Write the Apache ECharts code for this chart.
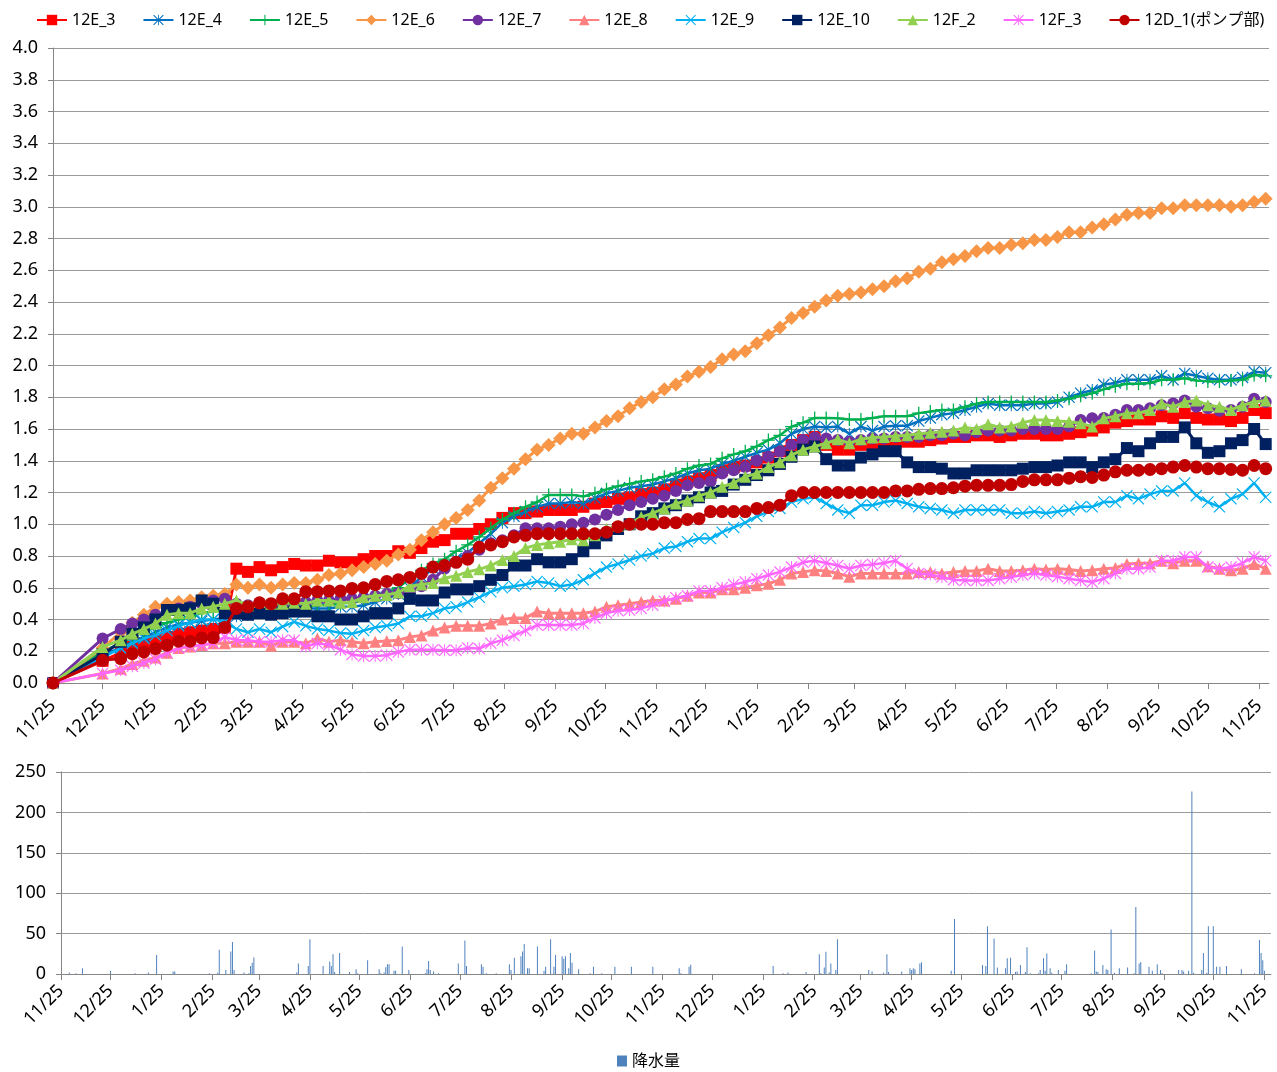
<!DOCTYPE html>
<html lang="ja" style="height: 100%;margin: 0;">
<head>
    <meta charset="UTF-8">
    <title>chart</title>
</head>
<body style="height: 100%;margin: 0;background: #fff;">
<div id="chart" style="width: 1277px;height: 1072px;margin: 0;"></div>
<script src="https://cdn.jsdelivr.net/npm/echarts@6/dist/echarts.min.js"></script>
<script>
    // sample days counted from 2012-11-25: start, 12/25, then weekly from 1/5
    var sampleDays = [0, 30];
    for (var k = 0; k < 100; k++) sampleDays.push(41 + 7 * k);

    var names = ['12E_3', '12E_4', '12E_5', '12E_6', '12E_7', '12E_8', '12E_9', '12E_10', '12F_2', '12F_3', '12D_1(ポンプ部)'];
    var colors = ['#FF0000', '#0070C0', '#00B050', '#F79646', '#7030A0', '#FF8080', '#00B0F0', '#002060', '#92D050', '#FF66FF', '#C00000'];

    var s12E_3 = [0, 0.14,
        0.19, 0.23, 0.25, 0.27, 0.29, 0.31, 0.32, 0.33, 0.34, 0.35,
        0.72, 0.70, 0.73, 0.71, 0.73, 0.75, 0.74, 0.74, 0.77, 0.76,
        0.76, 0.78, 0.80, 0.80, 0.83, 0.82, 0.85, 0.89, 0.90, 0.94,
        0.94, 0.97, 1.00, 1.04, 1.07, 1.07, 1.08, 1.09, 1.09, 1.09,
        1.11, 1.13, 1.14, 1.16, 1.17, 1.19, 1.20, 1.22, 1.25, 1.27,
        1.29, 1.31, 1.34, 1.36, 1.37, 1.39, 1.42, 1.46, 1.50, 1.53,
        1.55, 1.50, 1.47, 1.47, 1.50, 1.51, 1.51, 1.51, 1.52, 1.52,
        1.53, 1.54, 1.55, 1.55, 1.56, 1.56, 1.55, 1.56, 1.57, 1.57,
        1.56, 1.56, 1.57, 1.58, 1.59, 1.61, 1.64, 1.65, 1.66, 1.66,
        1.68, 1.67, 1.70, 1.67, 1.66, 1.66, 1.65, 1.67, 1.72, 1.70];
    var s12E_4 = [0, 0.18,
        0.22, 0.26, 0.29, 0.32, 0.35, 0.37, 0.38, 0.39, 0.40, 0.41,
        0.42, 0.43, 0.44, 0.45, 0.46, 0.46, 0.47, 0.47, 0.47, 0.48,
        0.48, 0.49, 0.51, 0.53, 0.56, 0.60, 0.67, 0.72, 0.74, 0.785,
        0.82, 0.88, 0.94, 1.01, 1.05, 1.08, 1.11, 1.13, 1.13, 1.14,
        1.13, 1.165, 1.195, 1.21, 1.23, 1.24, 1.25, 1.27, 1.29, 1.32,
        1.34, 1.35, 1.38, 1.40, 1.425, 1.45, 1.47, 1.51, 1.57, 1.60,
        1.615, 1.61, 1.615, 1.57, 1.615, 1.59, 1.615, 1.62, 1.62, 1.65,
        1.67, 1.69, 1.70, 1.72, 1.74, 1.76, 1.75, 1.75, 1.75, 1.76,
        1.76, 1.77, 1.80, 1.825, 1.845, 1.88, 1.89, 1.91, 1.91, 1.91,
        1.935, 1.91, 1.95, 1.935, 1.92, 1.91, 1.91, 1.925, 1.96, 1.955];
    var s12E_5 = [0, 0.20,
        0.25, 0.29, 0.32, 0.35, 0.38, 0.40, 0.42, 0.44, 0.45, 0.46,
        0.46, 0.46, 0.47, 0.47, 0.48, 0.48, 0.48, 0.49, 0.49, 0.50,
        0.51, 0.53, 0.55, 0.57, 0.60, 0.66, 0.71, 0.75, 0.78, 0.83,
        0.87, 0.92, 0.975, 1.03, 1.07, 1.11, 1.14, 1.185, 1.185, 1.185,
        1.175, 1.195, 1.22, 1.24, 1.255, 1.27, 1.28, 1.30, 1.32, 1.35,
        1.37, 1.38, 1.415, 1.44, 1.46, 1.49, 1.53, 1.56, 1.615, 1.64,
        1.67, 1.67, 1.667, 1.66, 1.66, 1.67, 1.68, 1.68, 1.68, 1.70,
        1.71, 1.72, 1.72, 1.74, 1.76, 1.77, 1.77, 1.77, 1.77, 1.77,
        1.77, 1.78, 1.79, 1.81, 1.825, 1.85, 1.87, 1.885, 1.885, 1.89,
        1.91, 1.91, 1.92, 1.905, 1.90, 1.90, 1.905, 1.91, 1.94, 1.935];
    var s12E_6 = [0, 0.22,
        0.32, 0.38, 0.43, 0.48, 0.50, 0.51, 0.52, 0.54, 0.55, 0.56,
        0.62, 0.60, 0.62, 0.60, 0.62, 0.63, 0.63, 0.65, 0.68, 0.69,
        0.71, 0.73, 0.75, 0.77, 0.81, 0.84, 0.90, 0.95, 1.00, 1.04,
        1.09, 1.15, 1.23, 1.29, 1.35, 1.41, 1.47, 1.50, 1.54, 1.57,
        1.57, 1.61, 1.65, 1.68, 1.73, 1.77, 1.80, 1.85, 1.88, 1.93,
        1.96, 1.99, 2.04, 2.07, 2.09, 2.14, 2.19, 2.24, 2.30, 2.33,
        2.37, 2.41, 2.44, 2.45, 2.46, 2.48, 2.50, 2.53, 2.55, 2.59,
        2.61, 2.65, 2.67, 2.69, 2.72, 2.74, 2.74, 2.76, 2.77, 2.79,
        2.79, 2.81, 2.84, 2.84, 2.87, 2.89, 2.92, 2.95, 2.96, 2.96,
        2.99, 2.99, 3.01, 3.01, 3.01, 3.01, 3.00, 3.01, 3.03, 3.05];
    var s12E_7 = [0, 0.28,
        0.34, 0.375, 0.40, 0.43, 0.45, 0.47, 0.48, 0.50, 0.52, 0.53,
        0.50, 0.49, 0.50, 0.49, 0.50, 0.51, 0.51, 0.52, 0.52, 0.53,
        0.53, 0.54, 0.55, 0.56, 0.565, 0.575, 0.61, 0.65, 0.72, 0.76,
        0.80, 0.84, 0.88, 0.90, 0.93, 0.975, 0.975, 0.975, 0.985, 1.00,
        1.01, 1.03, 1.06, 1.09, 1.12, 1.14, 1.16, 1.18, 1.21, 1.245,
        1.26, 1.27, 1.32, 1.34, 1.36, 1.40, 1.425, 1.457, 1.50, 1.53,
        1.547, 1.54, 1.53, 1.52, 1.53, 1.54, 1.54, 1.55, 1.55, 1.55,
        1.56, 1.56, 1.57, 1.56, 1.58, 1.59, 1.59, 1.59, 1.60, 1.60,
        1.60, 1.60, 1.615, 1.657, 1.667, 1.67, 1.69, 1.72, 1.72, 1.73,
        1.75, 1.76, 1.78, 1.74, 1.73, 1.715, 1.72, 1.74, 1.79, 1.77];
    var s12E_8 = [0, 0.06,
        0.09, 0.12, 0.14, 0.16, 0.19, 0.22, 0.23, 0.24, 0.25, 0.25,
        0.26, 0.26, 0.26, 0.235, 0.26, 0.26, 0.25, 0.28, 0.26, 0.27,
        0.26, 0.25, 0.26, 0.265, 0.27, 0.29, 0.30, 0.33, 0.35, 0.36,
        0.36, 0.36, 0.375, 0.40, 0.41, 0.41, 0.45, 0.44, 0.44, 0.44,
        0.44, 0.45, 0.48, 0.49, 0.50, 0.51, 0.52, 0.52, 0.53, 0.55,
        0.57, 0.57, 0.59, 0.59, 0.60, 0.615, 0.625, 0.65, 0.69, 0.70,
        0.71, 0.705, 0.69, 0.67, 0.69, 0.69, 0.69, 0.69, 0.69, 0.70,
        0.70, 0.69, 0.70, 0.705, 0.705, 0.72, 0.705, 0.705, 0.71, 0.72,
        0.715, 0.72, 0.715, 0.705, 0.71, 0.72, 0.725, 0.75, 0.755, 0.755,
        0.77, 0.755, 0.77, 0.77, 0.735, 0.72, 0.71, 0.72, 0.75, 0.72];
    var s12E_9 = [0, 0.16,
        0.22, 0.25, 0.28, 0.30, 0.33, 0.36, 0.38, 0.40, 0.40, 0.385,
        0.34, 0.32, 0.34, 0.32, 0.355, 0.385, 0.36, 0.34, 0.33, 0.315,
        0.31, 0.33, 0.35, 0.36, 0.375, 0.42, 0.42, 0.44, 0.47, 0.48,
        0.51, 0.54, 0.575, 0.60, 0.61, 0.62, 0.64, 0.63, 0.61, 0.62,
        0.65, 0.69, 0.73, 0.75, 0.775, 0.80, 0.815, 0.85, 0.86, 0.89,
        0.91, 0.91, 0.95, 0.98, 1.01, 1.05, 1.08, 1.10, 1.14, 1.16,
        1.17, 1.13, 1.09, 1.07, 1.12, 1.12, 1.14, 1.15, 1.13, 1.11,
        1.10, 1.09, 1.07, 1.09, 1.09, 1.09, 1.09, 1.07, 1.07, 1.08,
        1.07, 1.08, 1.09, 1.11, 1.11, 1.14, 1.14, 1.18, 1.16, 1.19,
        1.21, 1.21, 1.26, 1.18, 1.14, 1.11, 1.16, 1.19, 1.26, 1.17];
    var s12E_10 = [0, 0.18,
        0.26, 0.31, 0.35, 0.40, 0.46, 0.46, 0.47, 0.52, 0.50, 0.44,
        0.44, 0.43, 0.44, 0.43, 0.44, 0.45, 0.45, 0.42, 0.42, 0.40,
        0.40, 0.42, 0.44, 0.44, 0.47, 0.53, 0.52, 0.52, 0.57, 0.59,
        0.59, 0.61, 0.65, 0.68, 0.74, 0.74, 0.78, 0.76, 0.76, 0.78,
        0.83, 0.88, 0.93, 0.97, 1.00, 1.05, 1.07, 1.10, 1.12, 1.15,
        1.17, 1.20, 1.21, 1.25, 1.28, 1.31, 1.34, 1.38, 1.425, 1.47,
        1.49, 1.41, 1.37, 1.37, 1.42, 1.44, 1.46, 1.46, 1.39, 1.36,
        1.36, 1.35, 1.32, 1.32, 1.34, 1.34, 1.34, 1.34, 1.35, 1.36,
        1.36, 1.37, 1.39, 1.39, 1.36, 1.39, 1.41, 1.48, 1.46, 1.51,
        1.55, 1.55, 1.61, 1.51, 1.45, 1.46, 1.51, 1.53, 1.60, 1.505];
    var s12F_2 = [0, 0.227,
        0.27, 0.31, 0.34, 0.375, 0.43, 0.44, 0.44, 0.47, 0.48, 0.50,
        0.52, 0.49, 0.51, 0.50, 0.50, 0.505, 0.50, 0.52, 0.52, 0.505,
        0.51, 0.54, 0.55, 0.555, 0.57, 0.61, 0.62, 0.63, 0.66, 0.675,
        0.70, 0.716, 0.74, 0.775, 0.80, 0.85, 0.87, 0.88, 0.89, 0.905,
        0.90, 0.93, 0.97, 0.99, 1.005, 1.045, 1.07, 1.10, 1.13, 1.15,
        1.18, 1.20, 1.236, 1.26, 1.30, 1.32, 1.36, 1.39, 1.435, 1.47,
        1.49, 1.51, 1.535, 1.51, 1.535, 1.547, 1.55, 1.556, 1.56, 1.57,
        1.577, 1.583, 1.59, 1.61, 1.60, 1.63, 1.61, 1.615, 1.64, 1.657,
        1.657, 1.65, 1.646, 1.636, 1.615, 1.667, 1.68, 1.70, 1.70, 1.72,
        1.76, 1.74, 1.77, 1.78, 1.75, 1.74, 1.72, 1.75, 1.77, 1.78];
    var s12F_3 = [0, 0.06,
        0.08, 0.105, 0.126, 0.15, 0.19, 0.22, 0.23, 0.24, 0.25, 0.29,
        0.27, 0.27, 0.26, 0.26, 0.27, 0.27, 0.23, 0.25, 0.24, 0.21,
        0.18, 0.17, 0.17, 0.175, 0.195, 0.21, 0.21, 0.21, 0.206, 0.206,
        0.22, 0.217, 0.25, 0.27, 0.30, 0.33, 0.365, 0.365, 0.365, 0.365,
        0.375, 0.41, 0.44, 0.455, 0.46, 0.47, 0.49, 0.515, 0.537, 0.55,
        0.58, 0.58, 0.60, 0.62, 0.636, 0.657, 0.68, 0.70, 0.73, 0.76,
        0.77, 0.756, 0.74, 0.72, 0.74, 0.747, 0.756, 0.77, 0.72, 0.69,
        0.684, 0.667, 0.65, 0.646, 0.646, 0.646, 0.657, 0.667, 0.68, 0.69,
        0.68, 0.67, 0.657, 0.646, 0.636, 0.657, 0.69, 0.72, 0.72, 0.73,
        0.77, 0.77, 0.794, 0.794, 0.73, 0.72, 0.73, 0.756, 0.794, 0.77];
    var s12D_1 = [0, 0.143,
        0.154, 0.185, 0.196, 0.217, 0.238, 0.263, 0.263, 0.284, 0.286, 0.35,
        0.47, 0.48, 0.505, 0.50, 0.53, 0.53, 0.575, 0.575, 0.58, 0.58,
        0.596, 0.60, 0.62, 0.64, 0.65, 0.665, 0.69, 0.73, 0.74, 0.76,
        0.78, 0.855, 0.87, 0.89, 0.92, 0.93, 0.94, 0.94, 0.94, 0.94,
        0.94, 0.94, 0.95, 0.985, 1.00, 1.00, 1.00, 1.01, 1.01, 1.03,
        1.035, 1.08, 1.08, 1.08, 1.08, 1.10, 1.105, 1.12, 1.18, 1.20,
        1.20, 1.20, 1.20, 1.20, 1.20, 1.20, 1.20, 1.21, 1.21, 1.22,
        1.225, 1.225, 1.23, 1.24, 1.245, 1.245, 1.245, 1.25, 1.27, 1.28,
        1.28, 1.28, 1.29, 1.30, 1.295, 1.31, 1.33, 1.34, 1.34, 1.345,
        1.35, 1.36, 1.37, 1.36, 1.35, 1.35, 1.345, 1.34, 1.37, 1.35];

    // daily precipitation [day since 2012-11-25, mm], zero days omitted
    var rain = [[5, 2], [9, 1], [13, 7], [30, 4], [45, 1], [53, 2], [58, 23.5], [68, 3], [69, 3], [90, 1],
        [95, 1.5], [96, 30], [100, 5], [103, 28], [104, 39.5], [105, 5], [111, 2], [114, 1], [115, 10], [116, 14],
        [117, 20.5], [143, 2], [144, 13], [150, 10], [151, 43], [159, 10], [163, 15.5], [164, 10], [165, 24.5], [166, 2.5],
        [169, 26], [175, 2.5], [179, 6], [180, 1], [186, 17], [193, 6], [194, 1], [196, 2], [197, 8.5], [198, 12],
        [199, 12], [202, 4], [203, 4], [207, 34], [211, 5], [221, 1], [222, 6], [223, 16], [224, 5], [226, 3],
        [229, 1], [241, 13], [245, 41.5], [246, 10], [255, 12], [256, 9], [258, 1], [264, 1], [272, 12], [273, 5],
        [275, 20], [279, 22], [280, 28], [281, 37], [283, 7], [284, 7], [289, 34], [293, 4], [294, 9], [297, 43],
        [299, 9], [300, 23.5], [304, 22], [305, 19], [306, 22], [308, 7], [309, 26], [310, 14], [314, 6], [321, 1],
        [323, 9], [328, 1], [336, 9], [346, 9], [359, 9], [375, 7], [376, 1], [381, 9], [382, 11.5], [432, 10],
        [438, 1], [441, 2], [452, 2.5], [460, 24.5], [461, 1], [463, 8], [464, 27.5], [466, 2], [467, 13], [470, 5],
        [471, 43], [490, 5], [492, 3], [499, 1.5], [501, 24.5], [502, 2.5], [510, 3], [515, 7], [516, 5], [517, 7],
        [518, 6], [521, 13], [522, 14.5], [540, 4], [542, 68], [559, 11], [561, 10], [562, 59], [566, 44], [568, 8],
        [573, 7], [574, 19.5], [576, 20], [579, 2.5], [580, 3], [582, 11], [585, 2.5], [586, 33], [588, 1], [593, 1],
        [594, 5], [596, 19.5], [597, 4], [598, 25.5], [600, 7], [601, 1.5], [605, 5], [609, 4], [610, 12], [625, 1],
        [627, 29], [628, 3], [629, 2.5], [632, 11], [634, 6], [635, 5], [637, 55], [639, 1.5], [642, 7], [647, 8],
        [651, 1], [652, 83], [654, 13], [655, 15], [660, 9], [662, 4], [665, 12], [667, 5], [668, 1], [678, 5],
        [680, 5], [681, 3], [684, 4], [686, 226], [687, 1.5], [692, 5], [693, 26], [695, 1.5], [696, 59], [699, 59],
        [701, 9], [703, 9], [707, 10], [716, 6], [724, 1], [727, 42], [728, 26], [729, 17], [730, 4]];

    var lineData = [s12E_3, s12E_4, s12E_5, s12E_6, s12E_7, s12E_8, s12E_9, s12E_10, s12F_2, s12F_3, s12D_1];

    var SYM_PLUS = 'path://M9,0H11V9H20V11H11V20H9V11H0V9H9Z';
    var X_PART = 'M1.4,0L10,8.6L18.6,0L20,1.4L11.4,10L20,18.6L18.6,20L10,11.4L1.4,20L0,18.6L8.6,10L0,1.4Z';
    var SYM_X = 'path://' + X_PART;
    var SYM_STAR = 'path://' + X_PART + 'M9.2,0H10.8V20H9.2Z';
    var symbols = ['rect', SYM_STAR, SYM_PLUS, 'diamond', 'circle', 'triangle', SYM_X, 'rect', 'triangle', SYM_STAR, 'circle'];
    var symbolSizes = [12, 12, 13, 14, 12, 12, 12, 12, 12, 12, 13];
    var lineWidths = [3, 2.5, 2.5, 3, 3, 3, 2.5, 3, 3, 2.5, 3];

    // x axis counts days from 2012-11-25; ticks sit on the 25th of each month
    var DAY = 86400000;
    var start = new Date(2012, 10, 25);
    var monthTicks = [];
    for (var m = 0; m <= 24; m++) {
        monthTicks.push(Math.round((new Date(2012, 10 + m, 25) - start) / DAY));
    }

    var font = "'Noto Sans', 'Noto Sans CJK JP', sans-serif";

    function labelMD(val) {
        var d = new Date(2012, 10, 25 + Math.round(val));
        return (d.getMonth() + 1) + '/' + d.getDate();
    }

    function dayAxis(gridIndex, maxDay, margin) {
        return {
            type: 'value',
            gridIndex: gridIndex,
            min: 0,
            max: maxDay,
            axisLine: {show: true, onZero: false, lineStyle: {color: '#868686', width: 1}},
            axisTick: {show: true, customValues: monthTicks, length: 6, lineStyle: {color: '#868686'}},
            axisLabel: {
                customValues: monthTicks,
                formatter: labelMD,
                rotate: 45,
                margin: margin,
                fontSize: 18,
                fontFamily: font,
                color: '#000',
                hideOverlap: false,
                showMinLabel: true,
                showMaxLabel: true
            },
            splitLine: {show: false}
        };
    }

    function valueAxis(gridIndex, max, interval, fmt) {
        return {
            type: 'value',
            gridIndex: gridIndex,
            min: 0,
            max: max,
            interval: interval,
            axisLine: {show: true, lineStyle: {color: '#868686', width: 1}},
            axisTick: {show: true, length: 5, lineStyle: {color: '#868686'}},
            axisLabel: {formatter: fmt, fontSize: 18, fontFamily: font, color: '#000', margin: 15},
            splitLine: {show: true, lineStyle: {color: '#9a9a9a', width: 1}}
        };
    }

    var series = [];
    for (var i = 0; i < names.length; i++) {
        var vals = lineData[i];
        var pts = [];
        for (var j = 0; j < sampleDays.length; j++) pts.push([sampleDays[j], vals[j]]);
        series.push({
            name: names[i],
            type: 'line',
            xAxisIndex: 0,
            yAxisIndex: 0,
            data: pts,
            symbol: symbols[i],
            symbolSize: symbolSizes[i],
            showAllSymbol: true,
            lineStyle: {color: colors[i], width: lineWidths[i]},
            itemStyle: {color: colors[i], borderWidth: 0},
            emphasis: {disabled: true},
            z: 2 + i
        });
    }
    series.push({
        name: '降水量',
        type: 'bar',
        xAxisIndex: 1,
        yAxisIndex: 1,
        barWidth: 1,
        data: rain,
        itemStyle: {color: '#4F81BD'},
        emphasis: {disabled: true}
    });

    var myChart = echarts.init(document.getElementById('chart'), null, {renderer: 'canvas'});
    var option = {
        animation: false,
        backgroundColor: '#fff',
        textStyle: {fontFamily: font},
        legend: [{
            data: names,
            left: 36,
            top: 12,
            padding: 0,
            itemWidth: 30,
            itemHeight: 13,
            itemGap: 27,
            textStyle: {fontSize: 16, fontFamily: font, color: '#000'}
        }, {
            data: ['降水量'],
            left: 617,
            top: 1053,
            padding: 0,
            icon: 'rect',
            itemWidth: 10,
            itemHeight: 11,
            itemGap: 5,
            textStyle: {fontSize: 16, fontFamily: font, color: '#000'}
        }],
        grid: [
            {left: 53, right: 8, top: 48, bottom: 389, outerBoundsMode: 'none'},
            {left: 61, right: 6, top: 772, bottom: 98, outerBoundsMode: 'none'}
        ],
        xAxis: [dayAxis(0, 736, 20), dayAxis(1, 734, 14)],
        yAxis: [
            valueAxis(0, 4, 0.2, function (v) { return v.toFixed(1); }),
            valueAxis(1, 250, 50, function (v) { return String(v); })
        ],
        series: series
    };
    myChart.setOption(option);
</script>
</body>
</html>
